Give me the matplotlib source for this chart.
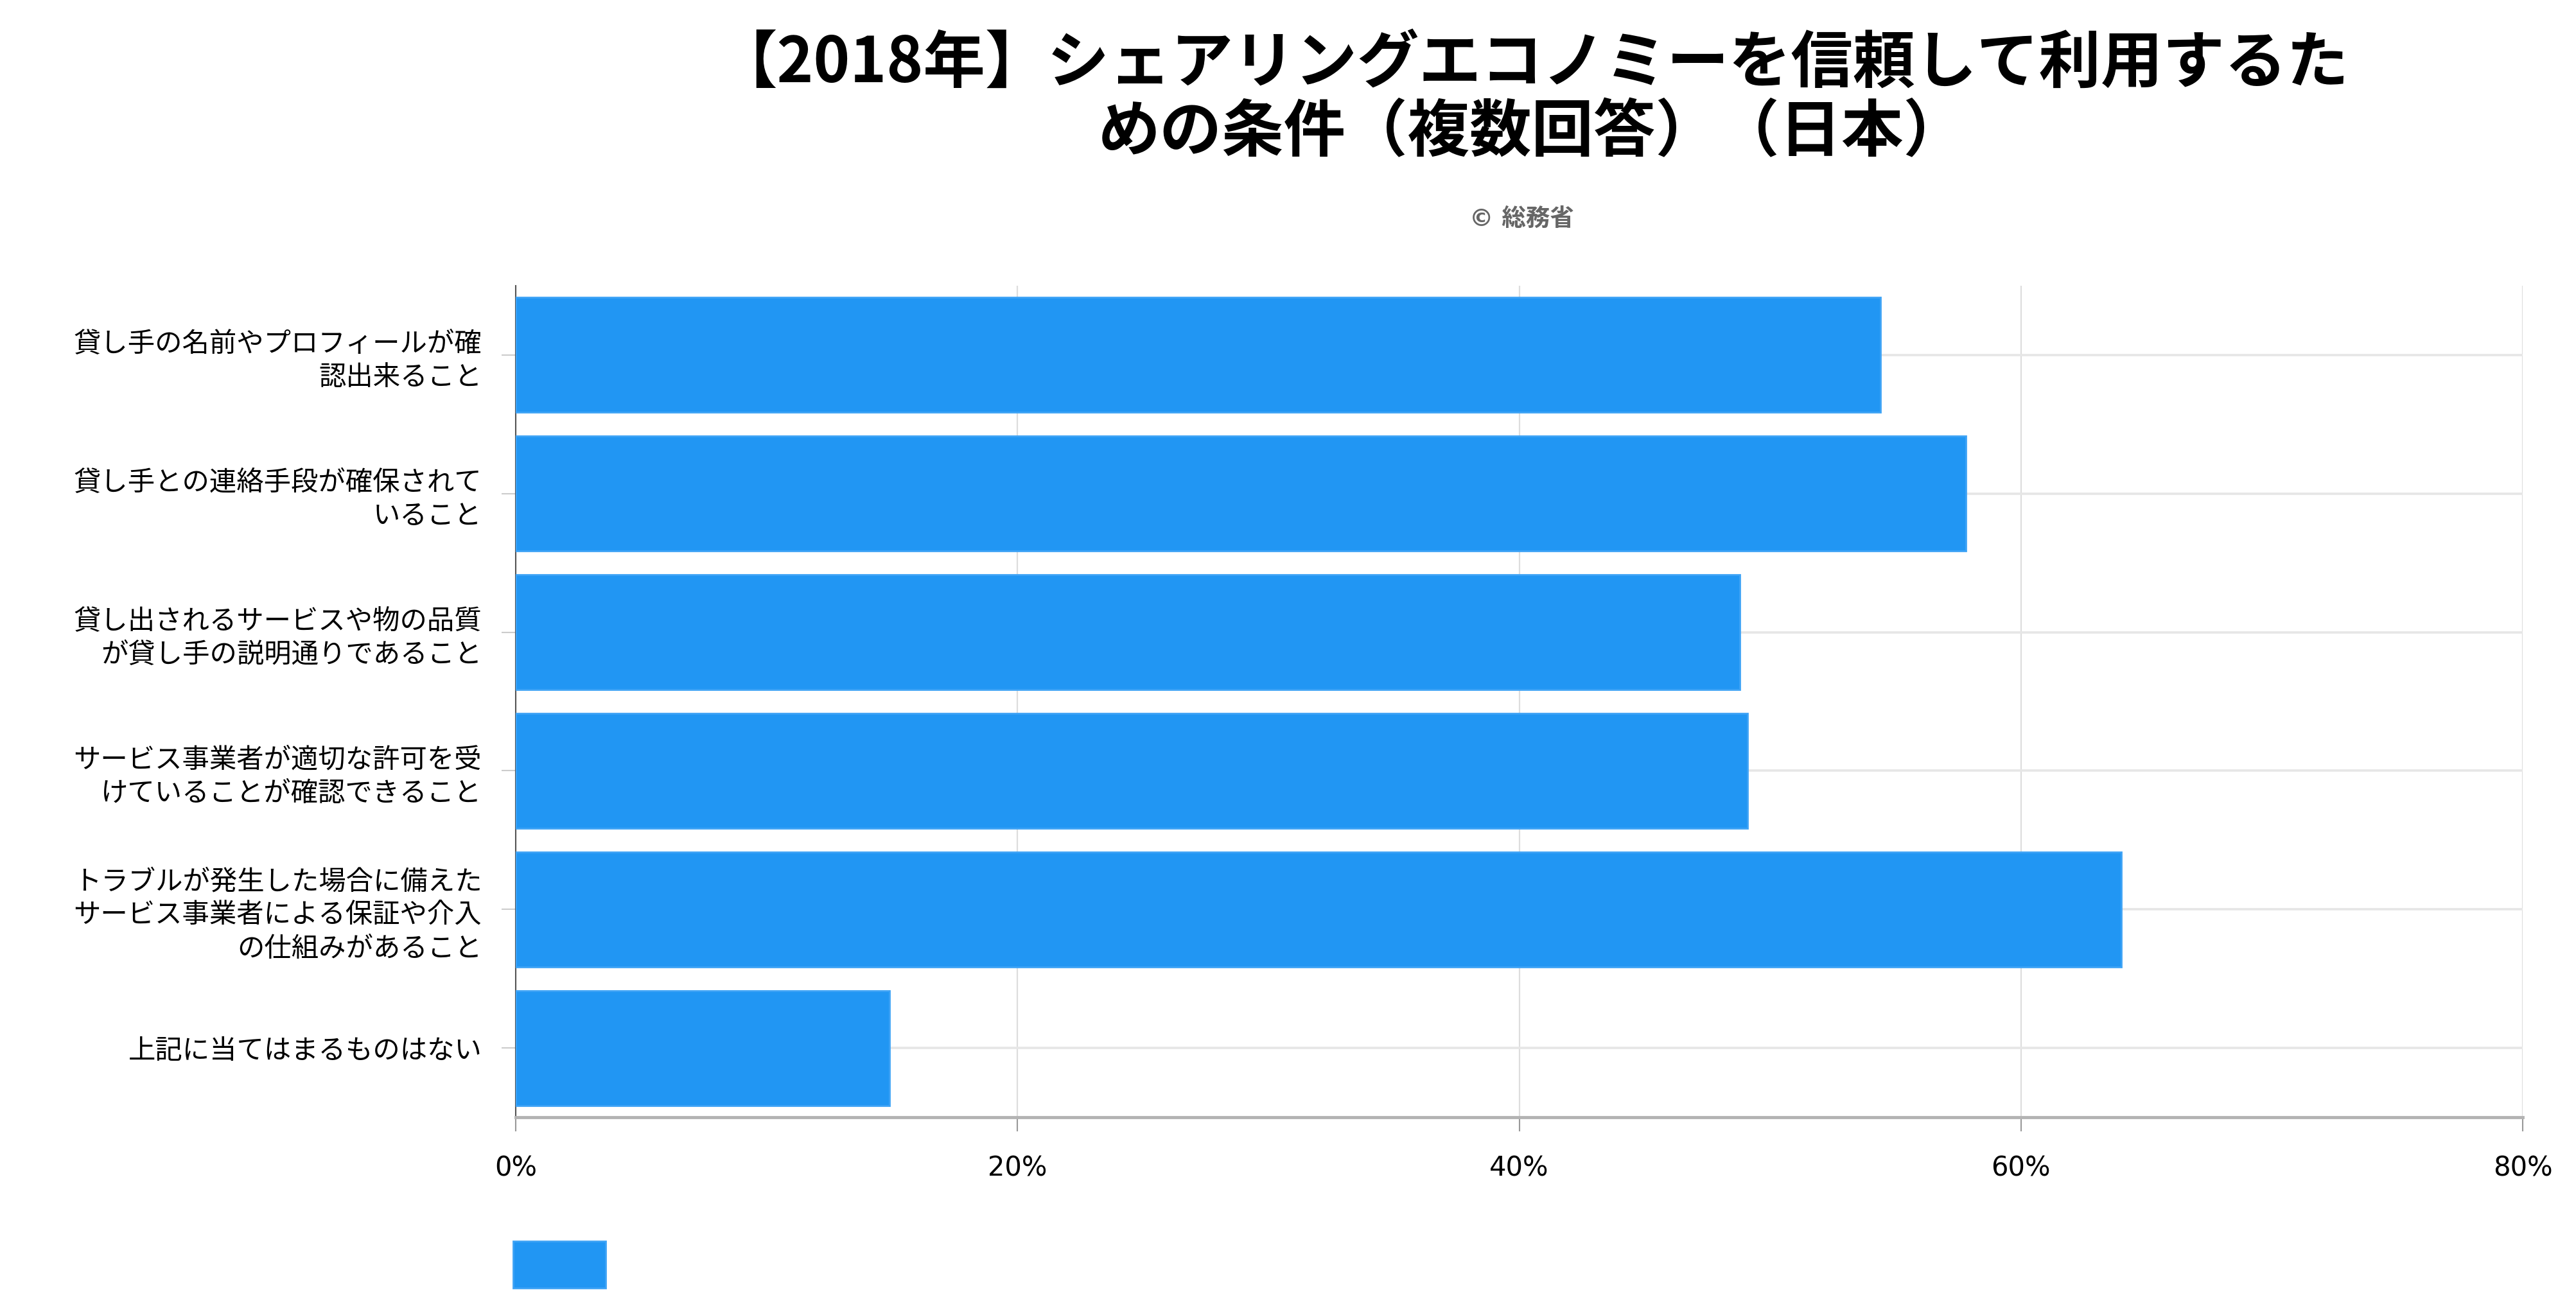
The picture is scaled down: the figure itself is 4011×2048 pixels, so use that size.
import numpy as np
import matplotlib.pyplot as plt
from matplotlib.patches import Patch

plt.rcParams['font.family'] = ['DejaVu Sans', 'Noto Sans CJK JP']

title = '【2018年】シェアリングエコノミーを信頼して利用するた\nめの条件（複数回答）（日本）'
credit = '© 総務省'
categories = ['貸し手の名前やプロフィールが確\n認出来ること',
              '貸し手との連絡手段が確保されて\nいること',
              '貸し出されるサービスや物の品質\nが貸し手の説明通りであること',
              'サービス事業者が適切な許可を受\nけていることが確認できること',
              'トラブルが発生した場合に備えた\nサービス事業者による保証や介入\nの仕組みがあること',
              '上記に当てはまるものはない']
values = [54.4, 57.8, 48.8, 49.1, 64.0, 14.9]
xticks = [0, 20, 40, 60, 80]
xtick_labels = ['0%', '20%', '40%', '60%', '80%']

W, H = 4012, 2048
fig = plt.figure(figsize=(W/100, H/100), dpi=100, facecolor='w')
ax = fig.add_axes([803/W, 1-1740/H, (3928-803)/W, (1740-445)/H])

y = np.arange(len(categories))
ax.barh(y, values, height=0.83, color='#2196F3', edgecolor='#3ea3f6', linewidth=2, zorder=3)

ax.set_xlim(0, 80)
ax.set_ylim(len(categories)-0.5, -0.5)
ax.set_xticks(xticks)
ax.set_xticklabels(xtick_labels, fontsize=30)
ax.set_yticks(y)
ax.set_yticklabels(categories, fontsize=30.5, linespacing=1.3)

ax.grid(axis='y', color='#e6e6e6', lw=2.6, zorder=0)
ax.grid(axis='x', color='#dddddd', lw=1.6, zorder=0)
ax.tick_params(axis='x', length=16, width=1.5, color='#999999', pad=26)
ax.tick_params(axis='y', length=16, width=1.5, color='#cccccc', pad=22)

for s in ['top', 'right']:
    ax.spines[s].set_visible(False)
ax.spines['left'].set_color('#555555')
ax.spines['left'].set_linewidth(1.5)
ax.spines['bottom'].set_color('#b3b3b3')
ax.spines['bottom'].set_linewidth(3.5)

fig.text(2385/W, 1-153/H, title, ha='center', va='center', fontsize=69.5,
         fontweight='bold', linespacing=1.1, family=['Noto Sans CJK JP', 'DejaVu Sans'])
fig.text(2369/W, 1-342/H, credit, ha='center', va='center', fontsize=27,
         fontweight='bold', color='#666666', family=['DejaVu Sans', 'Noto Sans CJK JP'])

leg = fig.legend(handles=[Patch(facecolor='#2196F3', edgecolor='#3ea3f6', linewidth=2)], labels=[''],
                 loc='upper left', bbox_to_anchor=(799/W, 1-1933/H), frameon=False,
                 fontsize=30, handlelength=3.45, handleheight=2.3, borderpad=0,
                 borderaxespad=0, handletextpad=0)

fig.savefig('out.png', dpi=100, facecolor='w')
